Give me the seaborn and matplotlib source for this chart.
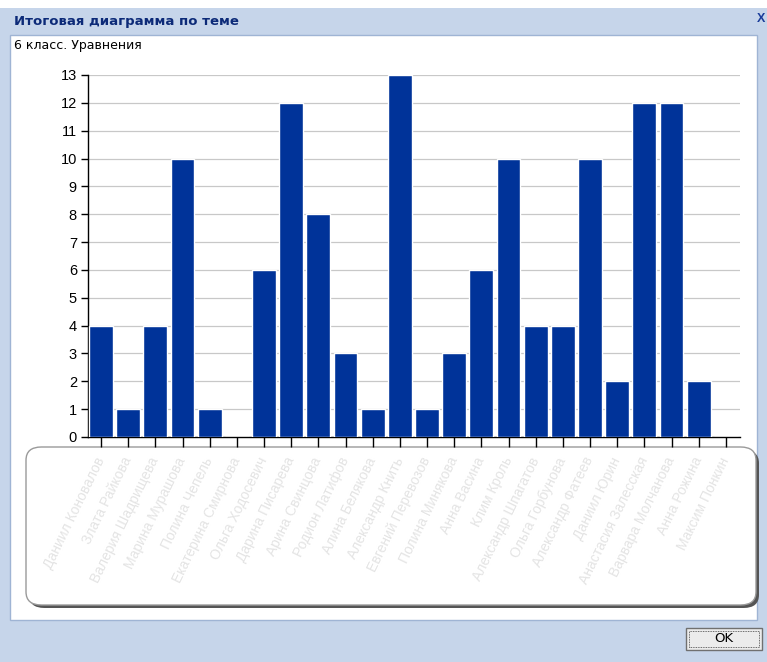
import matplotlib
matplotlib.use("Agg")
import matplotlib.pyplot as plt
import seaborn as sns
import pandas as pd
from matplotlib.patches import Rectangle, FancyBboxPatch

# ---------------------- DATA ----------------------
students = [
    "Даниил Коновалов", "Злата Райкова", "Валерия Шадрищева", "Марина Мурашова",
    "Полина Чепель", "Екатерина Смирнова", "Ольга Ходосевич", "Дарина Писарева",
    "Арина Свинцова", "Родион Латифов", "Алина Белякова", "Александр Книть",
    "Евгений Перевозов", "Полина Минякова", "Анна Васина", "Клим Кроль",
    "Александр Шпагатов", "Ольга Горбунова", "Александр Фатеев", "Даниил Юрин",
    "Анастасия Залесская", "Варвара Молчанова", "Анна Рожина", "Максим Понкин",
]
scores = [4, 1, 4, 10, 1, 0, 6, 12, 8, 3, 1, 13, 1, 3, 6, 10, 4, 4, 10, 2, 12, 12, 2, 0]
y_ticks = list(range(0, 14))

window_title = "Итоговая диаграмма по теме"
chart_title = "6 класс. Уравнения"
# ---------------------------------------------------

df = pd.DataFrame({"Ученик": students, "Баллы": scores})

sns.set_theme(style="white")
plt.rcParams["font.family"] = ["Liberation Sans", "DejaVu Sans"]

W, H = 767, 662
fig = plt.figure(figsize=(W / 100, H / 100), dpi=100)
fig.patch.set_facecolor("#c6d5ea")


def px(x, y):
    # pixel coords (top-left origin) -> figure fraction
    return x / W, 1 - y / H


# dialog content area and decorations (drawn below the axes)
fig.patches.append(Rectangle(px(0, 8), 1, 8 / H, transform=fig.transFigure,
                             facecolor="white", edgecolor="none", zorder=-2))
fig.patches.append(Rectangle(px(10, 620), 747 / W, (620 - 35) / H,
                             transform=fig.transFigure, facecolor="white",
                             edgecolor="#9fb4d4", lw=1, zorder=-2))
# label box with shadow
fig.patches.append(FancyBboxPatch(px(29, 608), 730 / W, 158 / H,
                                  boxstyle="round,pad=0,rounding_size=0.02",
                                  transform=fig.transFigure, facecolor="#555555",
                                  edgecolor="none", zorder=-1))
fig.patches.append(FancyBboxPatch(px(26, 605), 730 / W, 158 / H,
                                  boxstyle="round,pad=0,rounding_size=0.02",
                                  transform=fig.transFigure, facecolor="white",
                                  edgecolor="#9a9a9a", lw=1, zorder=-1))
# OK button
fig.patches.append(Rectangle(px(686, 650), 76 / W, 22 / H, transform=fig.transFigure,
                             facecolor="#ececec", edgecolor="#707070", lw=1, zorder=-1))
fig.patches.append(Rectangle(px(689, 647), 70 / W, 16 / H, transform=fig.transFigure,
                             facecolor="none", edgecolor="#404040", lw=0.6,
                             linestyle=(0, (1, 1)), zorder=-1))

fig.text(*px(14, 21), window_title, fontsize=9.5, fontweight="bold",
         color="#0c2a78", va="center", ha="left", family=["DejaVu Sans"])
fig.text(*px(14, 46), chart_title, fontsize=9, color="black",
         va="center", ha="left", family=["DejaVu Sans"])
fig.text(*px(761, 19), "X", fontsize=9, color="#1a3c9a", fontweight="bold",
         va="center", ha="center")
fig.text(*px(724, 639), "OK", fontsize=9.5, color="black", va="center", ha="center",
         family=["DejaVu Sans"])

# chart axes
left, top, right, bottom = 88, 75, 740, 437
ax = fig.add_axes([left / W, 1 - bottom / H, (right - left) / W, (bottom - top) / H])
ax.set_zorder(2)
ax.set_facecolor("none")

sns.barplot(data=df, x="Ученик", y="Баллы", color="#003399", saturation=1,
            width=0.88, ax=ax, zorder=3)

ax.set_ylim(0, 13)
ax.set_xlim(-0.48, 23.52)
ax.set_yticks(y_ticks)
ax.set_yticklabels([str(t) for t in y_ticks], fontsize=10.5, color="black")
ax.yaxis.grid(True, color="#c8c8c8", lw=0.9, zorder=0)
ax.set_axisbelow(True)
ax.set_xlabel("")
ax.set_ylabel("")

for s in ["top", "right"]:
    ax.spines[s].set_visible(False)
for s in ["left", "bottom"]:
    ax.spines[s].set_color("black")
    ax.spines[s].set_linewidth(1)

ax.tick_params(axis="y", direction="out", length=5, width=1, color="black", pad=3,
               left=True)
ax.tick_params(axis="x", direction="out", length=7, width=1, color="black", pad=8,
               bottom=True)
ax.set_xticks(range(len(students)))
ax.set_xticklabels(students, rotation=64, ha="right", va="center",
                   rotation_mode="anchor", fontsize=10, color="#e4e4e4")

fig.savefig("out.png", dpi=100, facecolor=fig.get_facecolor())
